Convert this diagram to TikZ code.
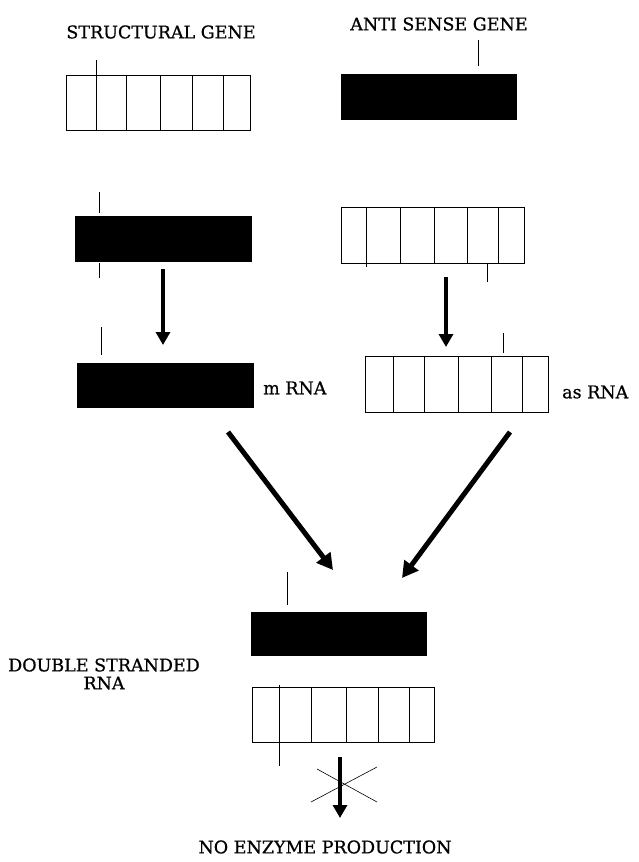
\documentclass[tikz,border=0pt]{standalone}
\usepackage{fontspec}
\newfontfamily\lblfont{DejaVu Serif}[FakeBold=0.8]
\usetikzlibrary{arrows.meta}
\begin{document}
\begin{tikzpicture}[x=1pt,y=-1pt,
  gene/.style={draw=black, line width=0.8pt, inner sep=0pt, outer sep=0pt, anchor=north west},
  filledgene/.style={gene, fill=black},
  stripe/.style={line width=0.8pt},
  flow/.style={line width=4.5pt, -{Triangle[length=13pt,width=14pt]}},
  bigflow/.style={line width=5pt, -{Triangle[length=16pt,width=17pt]}},
  cross/.style={line width=0.6pt},
  lbl/.style={font=\lblfont\fontsize{17.5}{18}\selectfont, inner sep=0pt}]
\useasboundingbox (0,0) rectangle (638,862);

% headings
\node[lbl] (hs) at (161,32) {STRUCTURAL GENE};
\node[lbl] (ha) at (439,24) {ANTI SENSE GENE};

% structural gene, top strand (open)
\node[gene, minimum width=184pt, minimum height=55pt] (s1) at (66,75) {};
\foreach \x in {96,126,160,192,223} \draw[stripe] (\x,75) -- (\x,130);
\draw[stripe] (96,60) -- (96,75);

% anti sense gene, top strand (filled)
\node[filledgene, minimum width=175pt, minimum height=45pt] (a1) at (341,74) {};
\draw[stripe] (478,40) -- (478,66);

% structural gene, lower strand (filled)
\node[filledgene, minimum width=176pt, minimum height=45pt] (s2) at (75,216) {};
\draw[stripe] (99,192) -- (99,213);
\draw[stripe] (99,263) -- (99,278);

% anti sense gene, lower strand (open)
\node[gene, minimum width=183pt, minimum height=56pt] (a2) at (341,207) {};
\foreach \x in {400,434,467,498} \draw[stripe] (\x,207) -- (\x,263);
\draw[stripe] (366,207) -- (366,267);
\draw[stripe] (487,263) -- (487,282);

% transcripts
\node[filledgene, minimum width=176pt, minimum height=44pt] (mr) at (77,363) {};
\draw[stripe] (101,327) -- (101,355);
\node[lbl, anchor=west] (mrl) at (263,388) {m RNA};

\node[gene, minimum width=183pt, minimum height=56pt] (ar) at (365,356) {};
\foreach \x in {393,424,458,491,522} \draw[stripe] (\x,356) -- (\x,412);
\draw[stripe] (503,333) -- (503,353);
\node[lbl, anchor=west] (arl) at (562,392) {as RNA};

% double stranded RNA
\node[filledgene, minimum width=175pt, minimum height=43pt] (d1) at (251,612) {};
\draw[stripe] (287,572) -- (287,605);
\node[gene, minimum width=182pt, minimum height=55pt] (d2) at (252,687) {};
\foreach \x in {311,346,378,409} \draw[stripe] (\x,687) -- (\x,742);
\draw[stripe] (279,685) -- (279,766);
\node[lbl, align=center] (dl) at (104,674) {DOUBLE STRANDED\\RNA};

% arrows
\coordinate (t1a) at (163,269); \coordinate (t1b) at (163,345);
\coordinate (t2a) at (446,277); \coordinate (t2b) at (446,347);
\coordinate (m1a) at (228,432); \coordinate (m1b) at (333,570);
\coordinate (m2a) at (510,432); \coordinate (m2b) at (402,578);
\coordinate (e1a) at (340,757); \coordinate (e1b) at (340,818);
\draw[flow] (t1a) -- (t1b);
\draw[flow] (t2a) -- (t2b);
\draw[bigflow] (m1a) -- (m1b);
\draw[bigflow] (m2a) -- (m2b);
\draw[flow] (e1a) -- (e1b);

% blocked step
\coordinate (c1) at (311,802); \coordinate (c2) at (377,767);
\coordinate (c3) at (317,769); \coordinate (c4) at (377,802);
\draw[cross] (c1) -- (c2);
\draw[cross] (c3) -- (c4);

\node[lbl] (ne) at (325,847) {NO ENZYME PRODUCTION};
\end{tikzpicture}
\end{document}
